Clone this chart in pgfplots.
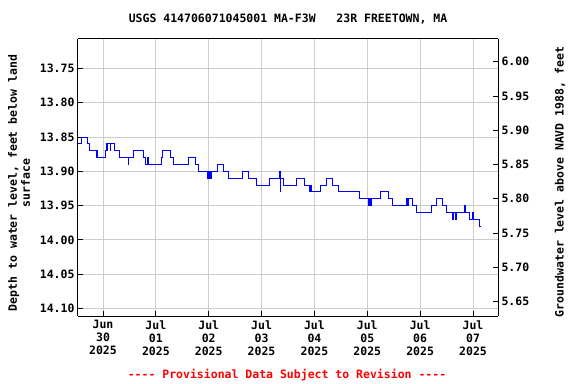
\documentclass[border=0pt]{standalone}
\usepackage{pgfplots}
\pgfplotsset{compat=1.18}
\usepackage{pgfplotstable}
\usepackage{fontspec}
\setmainfont{DejaVu Sans Mono}
\setmonofont{DejaVu Sans Mono}
\newcommand{\lab}{\ttfamily\bfseries\fontsize{11.5bp}{13bp}\selectfont}
\definecolor{gridgray}{HTML}{CCCCCC}
\pgfplotstableread{
d depth
-0.473 13.86
-0.407 13.85
-0.297 13.86
-0.246 13.87
-0.132 13.88
-0.119 13.87
-0.104 13.88
0.038 13.87
0.057 13.86
0.070 13.87
0.085 13.86
0.138 13.87
0.151 13.86
0.227 13.87
0.303 13.88
0.473 13.89
0.486 13.88
0.586 13.87
0.762 13.88
0.813 13.89
0.851 13.88
0.865 13.89
1.116 13.88
1.129 13.87
1.281 13.88
1.343 13.89
1.617 13.88
1.754 13.89
1.816 13.90
1.981 13.91
1.996 13.90
2.015 13.91
2.034 13.90
2.049 13.91
2.062 13.90
2.162 13.89
2.289 13.90
2.370 13.91
2.635 13.90
2.749 13.91
2.904 13.92
3.159 13.91
3.345 13.90
3.354 13.93
3.364 13.91
3.411 13.92
3.670 13.91
3.821 13.92
3.916 13.93
3.935 13.92
3.954 13.93
4.124 13.92
4.219 13.91
4.351 13.92
4.446 13.93
4.862 13.94
5.019 13.95
5.038 13.94
5.070 13.95
5.089 13.94
5.259 13.93
5.392 13.94
5.486 13.95
5.751 13.94
5.764 13.95
5.776 13.94
5.855 13.95
5.940 13.96
6.215 13.95
6.313 13.94
6.426 13.95
6.502 13.96
6.621 13.97
6.640 13.96
6.669 13.97
6.687 13.96
6.848 13.95
6.861 13.96
6.930 13.97
6.994 13.96
7.018 13.97
7.122 13.98
7.151 13.98
}\gwdata
\begin{document}
\begin{tikzpicture}
\useasboundingbox (-78bp,-68bp) rectangle (498bp,316bp);
\begin{axis}[
  at={(0,0)}, anchor=south west,
  scale only axis, width=420bp, height=277bp,
  xmin=-0.473, xmax=7.473,
  ymin=13.707, ymax=14.111, y dir=reverse,
  axis y line*=left, axis x line*=box,
  xtick={0,1,2,3,4,5,6,7},
  xticklabels={{Jun\\30\\2025},{Jul\\01\\2025},{Jul\\02\\2025},{Jul\\03\\2025},{Jul\\04\\2025},{Jul\\05\\2025},{Jul\\06\\2025},{Jul\\07\\2025}},
  ytick={13.75,13.80,13.85,13.90,13.95,14.00,14.05,14.10},
  yticklabel style={/pgf/number format/.cd, fixed, fixed zerofill, precision=2, assume math mode=true},
  tick label style={font=\lab, text=black},
  xticklabel style={align=center, yshift=-1bp},
  tick align=inside, major tick length=5bp,
  grid=major, major grid style={gridgray, line width=1bp},
  axis line style={black, line width=1bp},
  tick style={black, line width=0.8bp},
  xtick pos=bottom,
  clip=true,
]
\addplot[const plot, blue, line width=1bp] table[x=d, y=depth] {\gwdata};
\end{axis}
\begin{axis}[
  at={(0,0)}, anchor=south west,
  scale only axis, width=420bp, height=277bp,
  xmin=-0.473, xmax=7.473,
  ymin=5.629, ymax=6.033,
  axis y line*=right, axis x line=none,
  ytick={5.65,5.70,5.75,5.80,5.85,5.90,5.95,6.00},
  yticklabel style={/pgf/number format/.cd, fixed, fixed zerofill, precision=2, assume math mode=true},
  tick label style={font=\lab, text=black},
  tick align=inside, major tick length=5bp,
  axis line style={black, line width=1bp},
  tick style={black, line width=0.8bp},
]
\addplot[draw=none] coordinates {(0,5.8)};
\end{axis}
\node[font=\lab] at (210bp,297bp) {USGS 414706071045001 MA-F3W\ \ \ 23R FREETOWN, MA};
\node[font=\lab, rotate=90, align=center] at (-59bp,133bp) {Depth to water level, feet below land\\surface};
\node[font=\lab, rotate=90] at (482bp,134bp) {Groundwater level above NAVD 1988, feet};
\node[font=\lab, text=red] at (209bp,-59bp) {---- Provisional Data Subject to Revision ----};
\end{tikzpicture}
\end{document}
